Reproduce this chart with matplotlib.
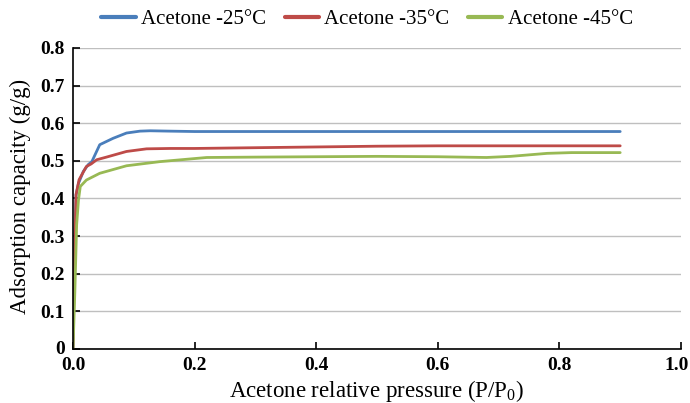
import matplotlib
matplotlib.use("Agg")
import matplotlib.pyplot as plt
import matplotlib.transforms as mtransforms

series_names = ["Acetone -25\u00b0C", "Acetone -35\u00b0C", "Acetone -45\u00b0C"]
colors = ["#4a7ebb", "#be4b48", "#98b954"]

x_25 = [0.0, 0.002, 0.005, 0.009, 0.017, 0.025, 0.031, 0.044, 0.066, 0.088, 0.11, 0.127, 0.16, 0.2, 0.3, 0.5, 0.7, 0.9]
y_25 = [0.0, 0.25, 0.41, 0.44, 0.472, 0.49, 0.498, 0.543, 0.56, 0.574, 0.579, 0.58, 0.579, 0.578, 0.578, 0.578, 0.578, 0.578]

x_35 = [0.0, 0.002, 0.005, 0.01, 0.022, 0.03, 0.039, 0.055, 0.088, 0.121, 0.16, 0.2, 0.3, 0.4, 0.5, 0.6, 0.7, 0.8, 0.9]
y_35 = [0.0, 0.2, 0.41, 0.45, 0.485, 0.492, 0.503, 0.51, 0.525, 0.532, 0.533, 0.533, 0.535, 0.537, 0.539, 0.54, 0.54, 0.54, 0.54]

x_45 = [0.0, 0.003, 0.006, 0.009, 0.012, 0.022, 0.044, 0.088, 0.143, 0.22, 0.3, 0.4, 0.5, 0.6, 0.68, 0.72, 0.78, 0.82, 0.9]
y_45 = [0.0, 0.15, 0.33, 0.396, 0.432, 0.449, 0.467, 0.487, 0.498, 0.509, 0.51, 0.511, 0.512, 0.511, 0.509, 0.512, 0.52, 0.522, 0.522]

xs = [x_25, x_35, x_45]
ys = [y_25, y_35, y_45]

x_ticks = [0.0, 0.2, 0.4, 0.6, 0.8, 1.0]
x_ticklabels = ["0.0", "0.2", "0.4", "0.6", "0.8", "1.0"]
y_ticks = [0, 0.1, 0.2, 0.3, 0.4, 0.5, 0.6, 0.7, 0.8]
y_ticklabels = ["0", "0.1", "0.2", "0.3", "0.4", "0.5", "0.6", "0.7", "0.8"]

plt.rcParams['font.family'] = ['Liberation Serif', 'DejaVu Serif']
plt.rcParams['mathtext.fontset'] = 'custom'
plt.rcParams['mathtext.rm'] = 'Liberation Serif'

W, H = 690, 403
fig = plt.figure(figsize=(W/100, H/100), dpi=100)
ax = fig.add_axes([73/W, 1-349/H, 608/W, 301/H])

for x, y, c, n in zip(xs, ys, colors, series_names):
    ax.plot(x, y, color=c, lw=2.0, label=n, solid_capstyle='round')

ax.set_xlim(0, 1.0)
ax.set_ylim(0, 0.8)
ax.set_xticks(x_ticks)
ax.set_xticklabels(x_ticklabels, fontweight='bold', fontsize=14)
ax.set_yticks(y_ticks)
ax.set_yticklabels(y_ticklabels, fontweight='bold', fontsize=14)
ax.tick_params(axis='both', direction='in', length=5, width=1.2, color='black')
ax.tick_params(axis='x', pad=6)
ax.tick_params(axis='y', pad=6)
ax.yaxis.grid(True, color='#bfbfbf', lw=1.0)
ax.set_axisbelow(True)
for s in ['top', 'right']:
    ax.spines[s].set_visible(False)
for s in ['left', 'bottom']:
    ax.spines[s].set_linewidth(1.2)

# keep the last x tick label inside the canvas
last = ax.get_xticklabels()[-1]
last.set_transform(last.get_transform() + mtransforms.ScaledTranslation(-4/100, 0, fig.dpi_scale_trans))
first_y = ax.get_yticklabels()[0]
first_y.set_transform(first_y.get_transform() + mtransforms.ScaledTranslation(0, 2/100, fig.dpi_scale_trans))

ax.set_xlabel("Acetone relative pressure (P/P$_0$)", fontsize=16.5)
ax.xaxis.set_label_coords(0.5, -(397-349)/301, transform=ax.transAxes)
ax.xaxis.label.set_va('baseline')
ax.set_ylabel("Adsorption capacity (g/g)", fontsize=16.5)
ax.yaxis.set_label_coords(-(73-10)/608, (349-196)/301, transform=ax.transAxes)
ax.yaxis.label.set_va('top')

leg = fig.legend(*ax.get_legend_handles_labels(), loc='center', bbox_to_anchor=(367/W, 1-19/H), ncol=3, frameon=False,
                 fontsize=15, handlelength=1.65, columnspacing=0.9, handletextpad=0.25,
                 borderaxespad=0, borderpad=0)
for l in leg.get_lines():
    l.set_linewidth(3)

fig.savefig("out.png", dpi=100)
